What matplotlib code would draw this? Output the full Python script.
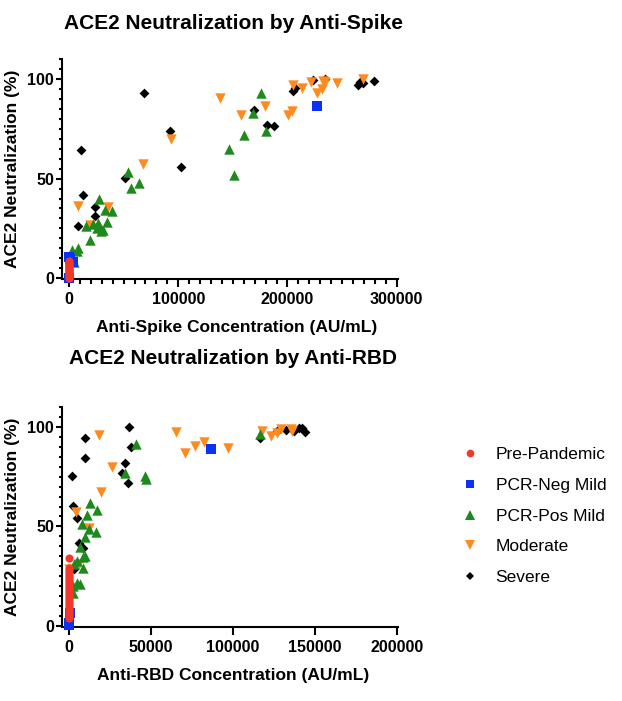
import matplotlib
matplotlib.use('Agg')
import matplotlib.pyplot as plt
from matplotlib.lines import Line2D
from matplotlib.ticker import MultipleLocator

plt.rcParams['font.family'] = ['Liberation Sans', 'DejaVu Sans']

# ---- Anti-Spike panel ----
spike_pre_x = [0, 0, 0, 0, 0, 0, 0, 0, 0, 0, 0, 0, 0, 0, 0, 0, 0, 0]
spike_pre_y = [0, 0.5, 1, 1.5, 2, 2.5, 3, 3.5, 4, 4.5, 5, 5.5, 6, 6.5, 7, 7.5, 8, 8.5]
spike_neg_x = [0, 500, 4000, 0, 227200]
spike_neg_y = [10.5, 9.5, 8.0, 0.3, 86.5]
spike_pos_x = [2500, 5000, 7000, 8500, 15600, 19300, 22000, 25300, 26800, 27800,
               29100, 31400, 32900, 34500, 39700, 53700, 56700, 63700, 146700,
               151300, 160100, 168100, 175700, 180300]
spike_pos_y = [14.0, 8.0, 13.5, 15.0, 26.3, 19.4, 27.0, 25.4, 27.9, 39.6,
               23.7, 24.0, 34.3, 28.4, 33.9, 53.2, 45.4, 47.7, 64.7,
               51.8, 71.9, 83.1, 92.8, 74.1]
spike_mod_x = [8500, 19500, 35700, 68100, 93400, 138600, 157400, 179500, 200200,
               204300, 204800, 213700, 221700, 227400, 231500, 232700, 234500,
               245200, 269000]
spike_mod_y = [36.4, 26.5, 35.9, 57.4, 69.7, 90.5, 82.0, 86.6, 82.1,
               84.0, 97.0, 95.4, 98.3, 93.0, 95.1, 98.9, 98.3,
               97.8, 99.9]
spike_sev_x = [8100, 10700, 12800, 23700, 23900, 27000, 51500, 69000, 92200,
               102200, 168900, 181100, 187500, 205500, 207100, 223800, 234800,
               264700, 266500, 269300, 279400]
spike_sev_y = [26.3, 64.2, 41.8, 31.4, 35.9, 25.0, 50.5, 92.8, 74.1,
               55.7, 84.2, 76.9, 76.4, 93.8, 95.3, 99.3, 99.8,
               97.0, 98.5, 98.2, 99.2]

# ---- Anti-RBD panel ----
rbd_pre_x = [0] * 27
rbd_pre_y = [4, 5, 6, 7, 8, 9, 10, 11, 12, 13, 14, 15, 16, 17, 18, 19, 20,
             21, 22, 23, 24, 25, 26, 27, 28, 29, 34]
rbd_neg_x = [0, 0, 500, 86900]
rbd_neg_y = [0.3, 1.5, 6.4, 89.1]
rbd_pos_x = [2300, 2600, 3100, 5100, 6700, 5100, 6700, 8300, 8300, 9800, 7700,
             9800, 12400, 16500, 11200, 12800, 16900, 34300, 41000, 46500,
             46900, 116500]
rbd_pos_y = [16.4, 20.0, 31.1, 21.4, 21.1, 32.6, 39.8, 28.9, 34.5, 35.1, 51.2,
             44.5, 48.5, 47.3, 55.7, 61.9, 58.2, 76.6, 91.3, 75.3,
             73.6, 96.2]
rbd_mod_x = [0, 4300, 5900, 12400, 18600, 19400, 26100, 65300, 70600, 76700,
             82300, 97300, 117700, 123200, 126800, 129100, 135200, 136400]
rbd_mod_y = [28.6, 57.4, 31.0, 49.3, 95.8, 67.1, 79.9, 97.5, 87.0, 90.3,
             92.6, 89.6, 97.8, 95.3, 96.7, 99.0, 99.1, 97.7]
rbd_sev_x = [2000, 2700, 3100, 4700, 6100, 8800, 9800, 9800, 32200, 34300,
             35900, 36900, 37700, 116700, 126700, 132200, 137300, 140400,
             142400, 144200]
rbd_sev_y = [75.3, 60.2, 28.4, 54.3, 41.8, 39.0, 94.6, 84.6, 76.6, 81.6,
             71.9, 99.7, 90.0, 94.6, 98.0, 98.6, 98.0, 99.2,
             99.2, 97.4]

groups = ['Pre-Pandemic', 'PCR-Neg Mild', 'PCR-Pos Mild', 'Moderate', 'Severe']
colors = ['#F2382B', '#0A32F5', '#1E8A1E', '#FF8A1E', '#000000']
markers = ['o', 's', '^', 'v', 'D']
sizes = [34, 50, 56, 56, 25]

spike = [(spike_pre_x, spike_pre_y), (spike_neg_x, spike_neg_y),
         (spike_pos_x, spike_pos_y), (spike_mod_x, spike_mod_y),
         (spike_sev_x, spike_sev_y)]
rbd = [(rbd_pre_x, rbd_pre_y), (rbd_neg_x, rbd_neg_y),
       (rbd_pos_x, rbd_pos_y), (rbd_mod_x, rbd_mod_y),
       (rbd_sev_x, rbd_sev_y)]

fig = plt.figure(figsize=(6.22, 7.01), dpi=100)
ax1 = fig.add_axes([0.0992, 0.6020, 0.5407, 0.3137])
ax2 = fig.add_axes([0.0992, 0.1058, 0.5407, 0.3137])


def style_axis(ax, xmax, xmajor, xminor, xlabel):
    ax.set_xlim(xmax[0], xmax[1])
    ax.set_ylim(-0.4, 110)
    for s in ['top', 'right']:
        ax.spines[s].set_visible(False)
    for s in ['left', 'bottom']:
        ax.spines[s].set_linewidth(1.5)
    ax.xaxis.set_major_locator(MultipleLocator(xmajor))
    if xminor:
        ax.xaxis.set_minor_locator(MultipleLocator(xminor))
    ax.yaxis.set_major_locator(MultipleLocator(50))
    ax.yaxis.set_minor_locator(MultipleLocator(5))
    ax.tick_params(axis='x', which='major', length=6, width=1.5, pad=3.5,
                   labelsize=11.5)
    ax.tick_params(axis='x', which='minor', length=3.5, width=1.5)
    ax.tick_params(axis='y', which='major', length=4, width=1.5, pad=1.5,
                   labelsize=11.5)
    ax.tick_params(axis='y', which='minor', length=2.5, width=1.5)
    for lab in ax.get_xticklabels() + ax.get_yticklabels():
        lab.set_fontweight('bold')
    ax.set_xlabel(xlabel, fontsize=12.5, fontweight='bold')
    ax.set_ylabel('ACE2 Neutralization (%)', fontsize=12.5, fontweight='bold')
    ax.yaxis.set_label_coords(-0.125, 0.5)


def draw(ax, data):
    # severe first, pre-pandemic last (on top)
    for i in [4, 3, 2, 1, 0]:
        xs, ys = data[i]
        ax.scatter(xs, ys, s=sizes[i], marker=markers[i], color=colors[i],
                   linewidths=0, clip_on=False, zorder=3 + (4 - i))


draw(ax1, spike)
draw(ax2, rbd)
style_axis(ax1, (-6700, 301200), 100000, 10000,
           'Anti-Spike Concentration (AU/mL)')
style_axis(ax2, (-4450, 200800), 50000, None,
           'Anti-RBD Concentration (AU/mL)')
ax1.xaxis.set_label_coords(0.52, -0.185)
ax2.xaxis.set_label_coords(0.51, -0.185)

fig.text(0.375, 0.967, 'ACE2 Neutralization by Anti-Spike', ha='center',
         va='center', fontsize=15, fontweight='bold')
fig.text(0.375, 0.489, 'ACE2 Neutralization by Anti-RBD', ha='center',
         va='center', fontsize=15, fontweight='bold')

handles = [Line2D([], [], linestyle='none', marker=markers[i], color=colors[i],
                  markeredgewidth=0, markersize=[5.5, 6, 6.5, 6.5, 4.5][i])
           for i in range(5)]
fig.legend(handles, groups, loc='upper left', bbox_to_anchor=(0.741, 0.362),
           frameon=False, fontsize=12.5, handlelength=1.0, handletextpad=1.0,
           labelspacing=0.89, borderpad=0, borderaxespad=0)

fig.savefig('out.png', dpi=100)
